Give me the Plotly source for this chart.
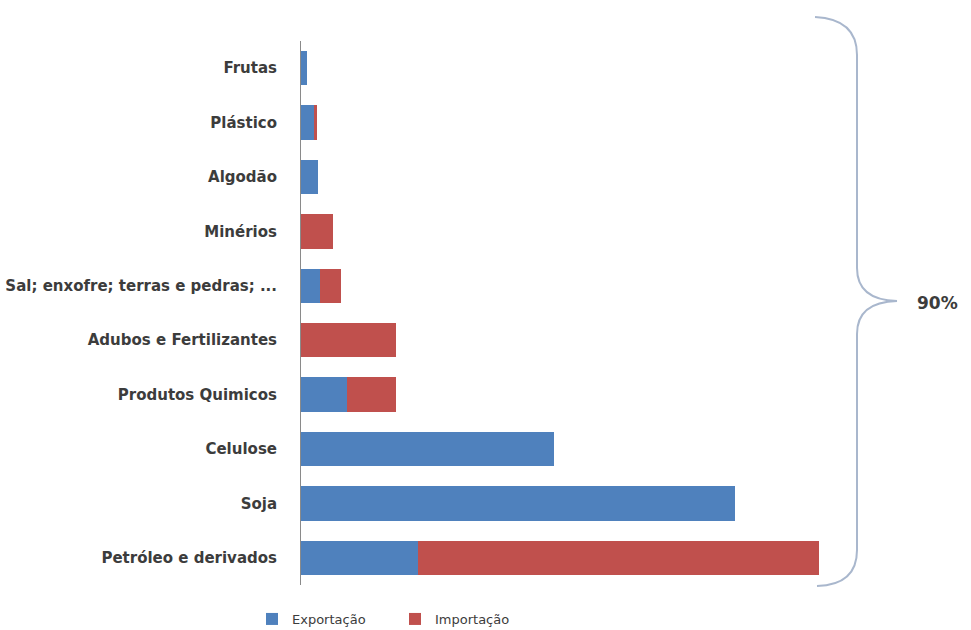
import plotly.graph_objects as go

# Categories listed top to bottom
categorias = [
    "Frutas",
    "Plástico",
    "Algodão",
    "Minérios",
    "Sal; enxofre; terras e pedras; ...",
    "Adubos e Fertilizantes",
    "Produtos Quimicos",
    "Celulose",
    "Soja",
    "Petróleo e derivados",
]
exportacao = [0.6, 1.3, 1.7, 0.0, 1.9, 0.0, 4.6, 25.3, 43.4, 11.7]
importacao = [0.0, 0.3, 0.0, 3.2, 2.1, 9.5, 4.9, 0.0, 0.0, 40.1]

AZUL = "#4f81bd"
VERMELHO = "#c0504d"
TEXTO = "#3c3c3c"
FONTE = "DejaVu Sans"

W, H = 971, 630
ML, MR, MT, MB = 301, 151, 41, 45
PW, PH = W - ML - MR, H - MT - MB

fig = go.Figure()
fig.add_trace(go.Bar(y=categorias, x=exportacao, orientation="h", name="Exportação",
                     marker=dict(color=AZUL, line=dict(width=0))))
fig.add_trace(go.Bar(y=categorias, x=importacao, orientation="h", name="Importação",
                     marker=dict(color=VERMELHO, line=dict(width=0))))


def px(x, y):
    """Pixel position on the page -> paper coordinates."""
    return (x - ML) / PW, (H - MB - y) / PH


def path(points):
    parts = []
    for cmd, pts in points:
        coords = " ".join(f"{a:.4f},{b:.4f}" for a, b in (px(*p) for p in pts))
        parts.append(f"{cmd} {coords}")
    return " ".join(parts)


# Curly brace grouping all the products
chave = path([
    ("M", [(815, 17)]),
    ("Q", [(857, 19), (857, 55)]),
    ("L", [(857, 268)]),
    ("Q", [(857, 300), (897, 301)]),
    ("Q", [(857, 302), (857, 334)]),
    ("L", [(857, 550)]),
    ("Q", [(857, 585), (817, 586)]),
])
fig.add_shape(type="path", path=chave, xref="paper", yref="paper",
              line=dict(color="#a9b7cd", width=2))

ax, ay = px(915, 303)
fig.add_annotation(x=ax, y=ay, xref="paper", yref="paper", text="<b>90%</b>",
                   showarrow=False, xanchor="left", yanchor="middle",
                   font=dict(family=FONTE, size=17, color=TEXTO))

fig.update_layout(
    width=W, height=H,
    margin=dict(l=ML, r=MR, t=MT, b=MB, autoexpand=False),
    barmode="stack",
    bargap=0.37,
    plot_bgcolor="white",
    paper_bgcolor="white",
    font=dict(family=FONTE, color=TEXTO),
    xaxis=dict(range=[0, 51.9], visible=False, showgrid=False, zeroline=False),
    yaxis=dict(autorange="reversed", automargin=False, showline=True,
               linecolor="#8a8a8a", linewidth=1,
               showgrid=False, ticks="", ticklabelstandoff=20,
               tickfont=dict(family=FONTE, size=15, color=TEXTO, weight="bold")),
    showlegend=True,
    legend=dict(orientation="h", xref="container", yref="container",
                x=252 / W, y=(H - 619) / H, xanchor="left", yanchor="middle",
                font=dict(family=FONTE, size=13, color=TEXTO),
                itemwidth=30, entrywidth=98, entrywidthmode="pixels",
                traceorder="normal", bgcolor="rgba(0,0,0,0)"),
)

fig.write_html("out.html")
